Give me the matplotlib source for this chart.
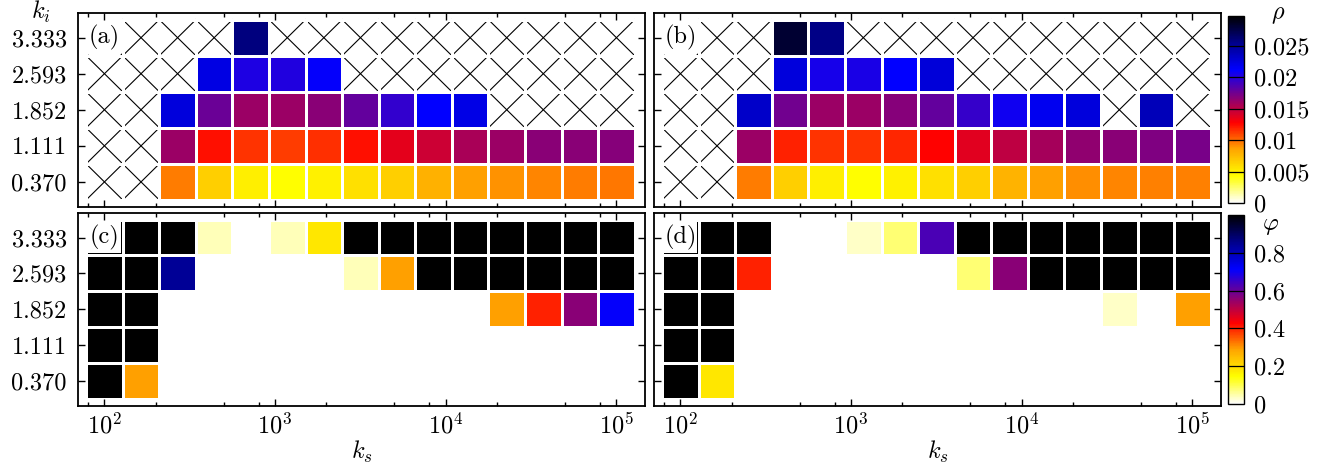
import numpy as np
import matplotlib
matplotlib.use("Agg")
import matplotlib.pyplot as plt
from matplotlib.colors import LinearSegmentedColormap, Normalize
from matplotlib.ticker import LogLocator, NullFormatter, FuncFormatter
from matplotlib.patches import Rectangle

nan = np.nan

# ---- data -------------------------------------------------------------
ks = [100, 163.8, 268.3, 439.4, 719.7, 1178.8, 1930.7, 3162.3, 5179.5,
      8483.4, 13895, 22758, 37276, 61054, 100000]
ki = [0.370, 1.111, 1.852, 2.593, 3.333]
ki_labels = ["0.370", "1.111", "1.852", "2.593", "3.333"]

rho_a_r0 = [nan, nan, 0.0096, 0.0066, 0.0050, 0.0044, 0.0049, 0.0057, 0.0066, 0.0080, 0.0086, 0.0090, 0.0093, 0.0096, 0.0097]
rho_a_r1 = [nan, nan, 0.0161, 0.0123, 0.0114, 0.0112, 0.0115, 0.0123, 0.0136, 0.0144, 0.0156, 0.0161, 0.0166, 0.0167, 0.0168]
rho_a_r2 = [nan, nan, 0.0224, 0.0177, 0.0161, 0.0161, 0.0167, 0.0179, 0.0195, 0.0212, 0.0221, nan, nan, nan, nan]
rho_a_r3 = [nan, nan, nan, 0.0222, 0.0203, 0.0201, 0.0210, nan, nan, nan, nan, nan, nan, nan, nan]
rho_a_r4 = [nan, nan, nan, nan, 0.0258, nan, nan, nan, nan, nan, nan, nan, nan, nan, nan]

rho_b_r0 = [nan, nan, 0.0096, 0.0066, 0.0050, 0.0043, 0.0049, 0.0057, 0.0066, 0.0078, 0.0086, 0.0091, 0.0093, 0.0095, 0.0095]
rho_b_r1 = [nan, nan, 0.0161, 0.0119, 0.0114, 0.0114, 0.0118, 0.0127, 0.0137, 0.0149, 0.0157, 0.0164, 0.0167, 0.0170, 0.0172]
rho_b_r2 = [nan, nan, 0.0231, 0.0175, 0.0161, 0.0161, 0.0168, 0.0179, 0.0194, 0.0207, 0.0217, 0.0224, nan, 0.0237, nan]
rho_b_r3 = [nan, nan, nan, 0.0224, 0.0205, 0.0204, 0.0212, 0.0226, nan, nan, nan, nan, nan, nan, nan]
rho_b_r4 = [nan, nan, nan, 0.0281, 0.0256, nan, nan, nan, nan, nan, nan, nan, nan, nan, nan]

phi_c_r0 = [1, 0.29, 0, 0, 0, 0, 0, 0, 0, 0, 0, 0, 0, 0, 0]
phi_c_r1 = [1, 1, 0, 0, 0, 0, 0, 0, 0, 0, 0, 0, 0, 0, 0]
phi_c_r2 = [1, 1, 0, 0, 0, 0, 0, 0, 0, 0, 0, 0.29, 0.40, 0.56, 0.71]
phi_c_r3 = [1, 1, 0.84, 0, 0, 0, 0, 0.04, 0.29, 1, 1, 1, 1, 1, 1]
phi_c_r4 = [1, 1, 1, 0.04, 0, 0.04, 0.18, 1, 1, 1, 1, 1, 1, 1, 1]

phi_d_r0 = [1, 0.18, 0, 0, 0, 0, 0, 0, 0, 0, 0, 0, 0, 0, 0]
phi_d_r1 = [1, 1, 0, 0, 0, 0, 0, 0, 0, 0, 0, 0, 0, 0, 0]
phi_d_r2 = [1, 1, 0, 0, 0, 0, 0, 0, 0, 0, 0, 0, 0.035, 0, 0.29]
phi_d_r3 = [1, 1, 0.40, 0, 0, 0, 0, 0, 0.08, 0.56, 1, 1, 1, 1, 1]
phi_d_r4 = [1, 1, 1, 0, 0, 0.035, 0.08, 0.63, 1, 1, 1, 1, 1, 1, 1]

rho_ticks = [0, 0.005, 0.01, 0.015, 0.02, 0.025]
phi_ticks = [0, 0.2, 0.4, 0.6, 0.8]
rho_max = 0.0297
phi_max = 1.0

# ---- style ------------------------------------------------------------
plt.rcParams["font.family"] = "serif"
plt.rcParams["font.serif"] = ["cmr10", "DejaVu Serif"]
plt.rcParams["mathtext.fontset"] = "cm"
plt.rcParams["axes.formatter.use_mathtext"] = True
plt.rcParams["font.size"] = 17.5
plt.rcParams["axes.linewidth"] = 1.3

cmap = LinearSegmentedColormap.from_list(
    "wyorpbk", ["white", "yellow", "orange", "red", "purple", "blue", "darkblue", "black"])

W, H = 1333, 465
fig = plt.figure(figsize=(W / 100, H / 100), dpi=100)


def px_axes(x0, y0, x1, y1):
    return fig.add_axes([x0 / W, 1 - y1 / H, (x1 - x0) / W, (y1 - y0) / H])


ax_a = px_axes(78, 13, 645, 207)
ax_b = px_axes(654, 13, 1221, 207)
ax_c = px_axes(78, 213, 645, 406)
ax_d = px_axes(654, 213, 1221, 406)
cax1 = px_axes(1228, 16, 1244, 203)
cax2 = px_axes(1228, 215, 1244, 404)

# cell edges from centers
lk = np.log10(ks)
dl = np.diff(lk)
xe = 10 ** np.concatenate([[lk[0] - dl[0] / 2], (lk[:-1] + lk[1:]) / 2, [lk[-1] + dl[-1] / 2]])
kia = np.array(ki)
dy = np.diff(kia)
ye = np.concatenate([[kia[0] - dy[0] / 2], (kia[:-1] + kia[1:]) / 2, [kia[-1] + dy[-1] / 2]])

norm_rho = Normalize(0, rho_max)
norm_phi = Normalize(0, phi_max)


def draw(ax, rows, norm, label, crosses, left_labels, bottom_labels):
    data = np.array(rows, dtype=float)
    m = ax.pcolormesh(xe, ye, np.ma.masked_invalid(data), cmap=cmap, norm=norm,
                      edgecolors="white", linewidth=1.8, zorder=1)
    if crosses:
        for i in range(data.shape[0]):
            for j in range(data.shape[1]):
                if np.isnan(data[i, j]):
                    ax.plot([xe[j], xe[j + 1]], [ye[i], ye[i + 1]], color="k", lw=0.8, zorder=0.5)
                    ax.plot([xe[j], xe[j + 1]], [ye[i + 1], ye[i]], color="k", lw=0.8, zorder=0.5)
    # label box in top-left cell
    i, j = len(ki) - 1, 0
    lx0, lx1 = np.log10(xe[j]), np.log10(xe[j + 1])
    ins_x = 0.06 * (lx1 - lx0)
    ins_y = 0.06 * (ye[i + 1] - ye[i])
    ax.add_patch(Rectangle((10 ** (lx0 + ins_x), ye[i] + ins_y),
                           10 ** (lx1 - ins_x) - 10 ** (lx0 + ins_x),
                           (ye[i + 1] - ye[i]) - 2 * ins_y,
                           facecolor="white", edgecolor="none", zorder=3))
    ax.text(ks[j], ki[i], label, ha="center", va="center", zorder=4)

    ax.set_xscale("log")
    ax.set_xlim(70, 147000)
    ax.set_ylim(ye[0] - 0.145, ye[-1] + 0.137)
    ax.xaxis.set_major_locator(LogLocator(base=10, numticks=10))
    ax.xaxis.set_minor_locator(LogLocator(base=10, subs=(2, 5, 8), numticks=10))
    ax.xaxis.set_minor_formatter(NullFormatter())
    ax.set_yticks(ki)
    if left_labels:
        ax.set_yticklabels(ki_labels)
    else:
        ax.set_yticklabels([])
    if bottom_labels:
        ax.set_xlabel(r"$k_s$", labelpad=0)
    else:
        ax.set_xticklabels([])
    ax.tick_params(which="both", direction="in", top=True, right=True, width=1.0)
    ax.tick_params(which="major", length=5)
    ax.tick_params(which="minor", length=3)
    ax.tick_params(axis="y", pad=8)
    ax.tick_params(axis="x", pad=5)
    return m


m1 = draw(ax_a, [rho_a_r0, rho_a_r1, rho_a_r2, rho_a_r3, rho_a_r4], norm_rho, "(a)", True, True, False)
draw(ax_b, [rho_b_r0, rho_b_r1, rho_b_r2, rho_b_r3, rho_b_r4], norm_rho, "(b)", True, False, False)
m2 = draw(ax_c, [phi_c_r0, phi_c_r1, phi_c_r2, phi_c_r3, phi_c_r4], norm_phi, "(c)", False, True, True)
draw(ax_d, [phi_d_r0, phi_d_r1, phi_d_r2, phi_d_r3, phi_d_r4], norm_phi, "(d)", False, False, True)

fmt = FuncFormatter(lambda v, p: "%g" % v)
for cax, m, ticks in [(cax1, m1, rho_ticks), (cax2, m2, phi_ticks)]:
    cb = fig.colorbar(m, cax=cax, ticks=ticks)
    cb.ax.yaxis.set_major_formatter(fmt)
    cb.ax.tick_params(length=0, pad=7)
    cb.outline.set_linewidth(1.0)
    for t in ticks[1:]:
        cb.ax.axhline(t, color="k", lw=0.9)

fig.text(41 / W, 1 - 19 / H, r"$k_i$", ha="center", va="baseline")
fig.text(1278 / W, 1 - 19 / H, r"$\rho$", ha="center", va="baseline")
fig.text(1271 / W, 1 - 230 / H, r"$\varphi$", ha="center", va="baseline")

fig.savefig("out.png", dpi=100)
